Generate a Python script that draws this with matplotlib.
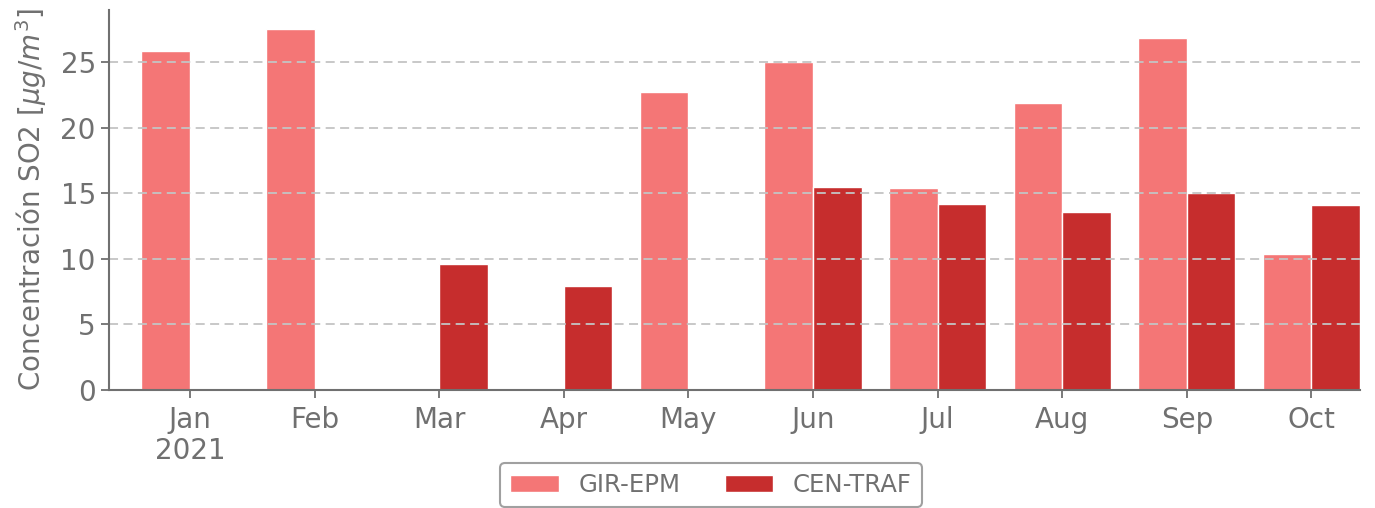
import matplotlib
matplotlib.use("Agg")
import matplotlib.pyplot as plt
import numpy as np

months = ["Jan\n2021", "Feb", "Mar", "Apr", "May", "Jun", "Jul", "Aug", "Sep", "Oct"]
gir_epm = [25.8, 27.5, 0, 0, 22.7, 25.0, 15.4, 21.9, 26.8, 10.4]
cen_traf = [0, 0, 9.6, 7.9, 0, 15.5, 14.2, 13.6, 15.0, 14.1]
series_names = ["GIR-EPM", "CEN-TRAF"]
colors = ["#F47676", "#C62D2D"]

gray = "#707070"
plt.rcParams['font.family'] = ['DejaVu Sans']

fig = plt.figure(figsize=(13.75, 5.08), dpi=100)
ax = fig.add_axes([109/1375, 1-390/508, (1360-109)/1375, (390-10)/508])

x = np.arange(len(months))
w = 0.39
ax.bar(x - w/2, gir_epm, width=w, color=colors[0], edgecolor="white", linewidth=1, label=series_names[0])
ax.bar(x + w/2, cen_traf, width=w, color=colors[1], edgecolor="white", linewidth=1, label=series_names[1])

ax.set_xlim(-0.65, 9.39)
ax.set_ylim(0, 28.96)
ax.set_xticks(x)
ax.set_xticklabels(months, linespacing=1.15)
ax.set_yticks([0, 5, 10, 15, 20, 25])

ax.grid(axis="y", linestyle="--", color="#c4c4c4", linewidth=1.3, dashes=(5, 3))
for s in ["top", "right"]:
    ax.spines[s].set_visible(False)
for s in ["left", "bottom"]:
    ax.spines[s].set_color(gray)
    ax.spines[s].set_linewidth(1.5)
ax.tick_params(colors=gray, labelsize=20, width=1.3, length=6, labelcolor=gray)
ax.tick_params(axis="x", pad=5.5)
ax.set_ylabel(r"Concentración SO2 [$\mu g/m^3$]", fontsize=20, color=gray, labelpad=8)

leg = fig.legend(loc="lower center", bbox_to_anchor=(711/1375, 1/508), ncol=2, fontsize=17.6,
                 frameon=True, edgecolor="#888888", fancybox=True, labelcolor=gray,
                 handlelength=2.0, columnspacing=1.8, borderaxespad=0)
leg.get_frame().set_linewidth(1.5)

fig.savefig("out.png", dpi=100)
